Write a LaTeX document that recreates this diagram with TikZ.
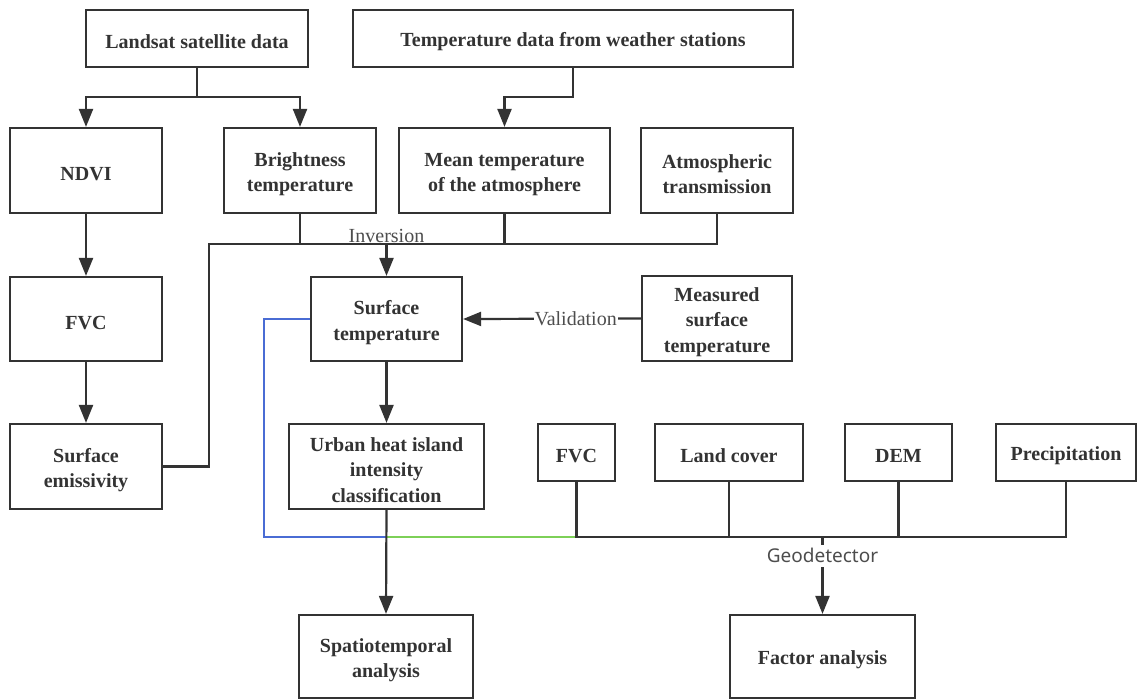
\documentclass[tikz,border=0pt]{standalone}
\usepackage{fontspec}
\setmainfont{Liberation Serif}
\newfontfamily\gdfont{Noto Sans}
\usetikzlibrary{arrows.meta,calc}
\definecolor{ink}{HTML}{333333}
\definecolor{lblc}{HTML}{4D4D4D}
\definecolor{bline}{HTML}{4A6CD4}
\definecolor{gline}{HTML}{7DD057}
\newcommand\tup{\rule{0pt}{21pt}}
\begin{document}
\begin{tikzpicture}[x=1pt,y=-1pt,
 box/.style={draw=ink, line width=2.2pt, inner sep=0pt, align=center, text=ink, font=\bfseries\fontsize{20}{25.5}\selectfont},
 ln/.style={draw=ink, line width=2.2pt},
 arr/.style={ln, -{Triangle[length=18pt,width=14pt]}},
 lbl/.style={text=lblc, font=\fontsize{20}{24}\selectfont},
]
\useasboundingbox (0,0) rectangle (1137,699);
\fill[white] (0,0) rectangle (1137,699);

% row 1
\node[box, minimum width=222pt, minimum height=57pt] (land) at (197,38.5) {\tup Landsat satellite data};
\node[box, minimum width=440pt, minimum height=57pt] (wst) at (573,38.5) {\tup Temperature data from weather stations};
% row 2
\node[box, minimum width=152pt, minimum height=85pt] (ndvi) at (86,170.5) {\tup NDVI};
\node[box, minimum width=152pt, minimum height=85pt] (bt) at (300,170.5) {\tup Brightness\\temperature};
\node[box, minimum width=211pt, minimum height=85pt] (mt) at (504.5,170.5) {\tup Mean temperature\\of the atmosphere};
\node[box, minimum width=152pt, minimum height=85pt] (atr) at (717,170.5) {\tup Atmospheric\\transmission};
% row 3
\node[box, minimum width=152pt, minimum height=84pt] (fvc) at (86,319) {\tup FVC};
\node[box, minimum width=151pt, minimum height=84pt] (st) at (386.5,319) {\tup Surface\\temperature};
\node[box, minimum width=150pt, minimum height=85pt] (mst) at (717,318.5) {\tup Measured\\surface\\temperature};
% row 4
\node[box, minimum width=152pt, minimum height=85pt] (se) at (86,466.5) {\tup Surface\\emissivity};
\node[box, minimum width=195pt, minimum height=85pt] (uhi) at (386.5,466.5) {\tup Urban heat island\\intensity\\classification};
\node[box, minimum width=77pt, minimum height=57pt] (fvcb) at (576.5,452.5) {\tup FVC};
\node[box, minimum width=148pt, minimum height=57pt] (lc) at (729,452.5) {\tup Land cover};
\node[box, minimum width=107pt, minimum height=57pt] (dem) at (898.5,452.5) {\tup DEM};
\node[box, minimum width=140pt, minimum height=57pt] (pre) at (1066,452.5) {\tup Precipitation};
% row 5
\node[box, minimum width=174pt, minimum height=83pt] (spa) at (386,656.5) {\tup Spatiotemporal\\analysis};
\node[box, minimum width=185pt, minimum height=83pt] (fa) at (822.5,656.5) {\tup Factor analysis};

% Landsat split
\coordinate (j1) at (197,97);
\draw[ln] (land.south) -- (j1);
\draw[arr] (j1) -| (ndvi.north);
\draw[arr] (j1) -| (bt.north);
% weather stations
\coordinate (j2) at (573,97);
\draw[arr] (wst.south) -- (j2) -| (mt.north);
% left column
\draw[arr] (ndvi.south) -- (fvc.north);
\draw[arr] (fvc.south) -- (se.north);
% inversion bus
\coordinate (bus) at (386.5,244);
\coordinate (busl) at (209,244);
\draw[ln] (se.east) -| (busl) -| (atr.south);
\draw[ln] (bt.south) -- (bt.south |- bus);
\draw[ln] (mt.south) -- (mt.south |- bus);
\draw[arr] (bus) -- (st.north);
\node[lbl, anchor=base] (inv) at (386.5,242.5) {Inversion};
% validation
\draw[arr] (mst.west) -- node[lbl, pos=0.367, fill=white, inner sep=1pt] (val) {Validation} (st.east);
% surface temperature to UHI
\draw[arr] (st.south) -- (uhi.north);
% blue and green paths
\coordinate (g) at (386.5,537);
\coordinate (bl) at (264,537);
\draw[bline, line width=2pt] (st.west) -| (bl) -- (g);
\draw[gline, line width=2pt] (g) -- (fvcb.south |- g);
% factor bus
\draw[ln] (fvcb.south) -- (fvcb.south |- g) -- (pre.south |- g) -- (pre.south);
\draw[ln] (lc.south) -- (lc.south |- g);
\draw[ln] (dem.south) -- (dem.south |- g);
\coordinate (gd) at (822.5,537);
\draw[arr] (gd) -- node[pos=0.245, fill=white, text=lblc, font=\gdfont\fontsize{19}{22}\selectfont, inner sep=4pt] (geo) {Geodetector} (fa.north);
% UHI to spatiotemporal
\draw[arr] (uhi.south) -- (spa.north);
\end{tikzpicture}
\end{document}
